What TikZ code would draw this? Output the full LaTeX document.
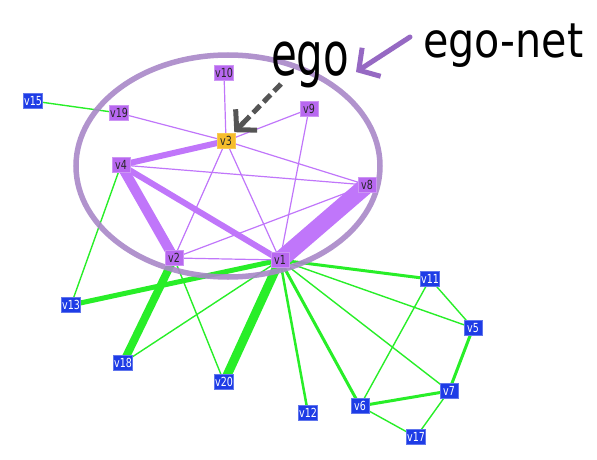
\documentclass[tikz,border=0pt]{standalone}
\usepackage{fontspec}
\setsansfont{DejaVu Sans}
\newfontfamily\vfont[FakeStretch=0.76]{DejaVu Sans}
\usetikzlibrary{arrows.meta,calc}
\definecolor{nblue}{RGB}{30,60,230}
\definecolor{npurple}{RGB}{184,104,240}
\definecolor{norange}{RGB}{246,189,44}
\definecolor{epurple}{RGB}{192,118,250}
\definecolor{egreen}{RGB}{40,238,40}
\definecolor{ellcol}{RGB}{168,135,200}
\definecolor{arrpurple}{RGB}{150,105,195}
\definecolor{arrgray}{RGB}{85,85,85}
\tikzset{
  vnode/.style={rectangle, minimum width=18pt, minimum height=15pt, inner sep=0.5pt,
    font=\vfont\fontsize{12.5}{12.5}\selectfont},
  pn/.style={vnode, fill=npurple, draw=npurple!70!white, line width=0.6pt, text=black!85},
  bn/.style={vnode, fill=nblue, draw=nblue!70!white, line width=0.6pt, text=white},
  on/.style={vnode, fill=norange, draw=norange!80!white, line width=0.6pt, text=black!85},
  pe/.style={draw=epurple, line width=1.2pt},
  ge/.style={draw=egreen, line width=1.4pt},
}
\begin{document}
\begin{tikzpicture}[x=1pt,y=-1pt]
\useasboundingbox (0,0) rectangle (597,460);
\path
  (33,101) coordinate (c15)
  (119,113) coordinate (c19)
  (224,73) coordinate (c10)
  (226,141) coordinate (c3)
  (309,109) coordinate (c9)
  (121,165) coordinate (c4)
  (367,185) coordinate (c8)
  (174,258) coordinate (c2)
  (280,260) coordinate (c1)
  (71,305) coordinate (c13)
  (123,363) coordinate (c18)
  (224,382) coordinate (c20)
  (308,413) coordinate (c12)
  (360,406) coordinate (c6)
  (449,391) coordinate (c7)
  (473,328) coordinate (c5)
  (430,279) coordinate (c11)
  (416,437) coordinate (c17);
% green edges
\draw[ge] (c15) -- (c19);
\draw[ge] (c4) -- (c13);
\draw[ge, line width=5pt] (c13) -- (c1);
\draw[ge, line width=8pt] (c2) -- (c18);
\draw[ge] (c18) -- (c1);
\draw[ge] (c2) -- (c20);
\draw[ge, line width=9pt] (c1) -- (c20);
\draw[ge, line width=2.5pt] (c1) -- (c12);
\draw[ge, line width=3pt] (c1) -- (c6);
\draw[ge] (c1) -- (c7);
\draw[ge] (c1) -- (c5);
\draw[ge, line width=3pt] (c1) -- (c11);
\draw[ge] (c11) -- (c5);
\draw[ge] (c11) -- (c6);
\draw[ge, line width=3pt] (c5) -- (c7);
\draw[ge, line width=3pt] (c6) -- (c7);
\draw[ge] (c6) -- (c17);
\draw[ge] (c7) -- (c17);
% purple edges
\draw[pe] (c19) -- (c3);
\draw[pe] (c10) -- (c3);
\draw[pe] (c9) -- (c3);
\draw[pe, line width=6pt] (c4) -- (c3);
\draw[pe] (c3) -- (c8);
\draw[pe] (c3) -- (c2);
\draw[pe] (c3) -- (c1);
\draw[pe] (c4) -- (c8);
\draw[pe, line width=10pt] (c4) -- (c2);
\draw[pe, line width=6pt] (c4) -- (c1);
\draw[pe, line width=17pt] (c8) -- (c1);
\draw[pe] (c8) -- (c2);
\draw[pe] (c9) -- (c1);
\draw[pe] (c2) -- (c1);
% ego-net ellipse
\draw[ellcol, line width=5.5pt, opacity=0.9] (228,166) ellipse [x radius=152, y radius=111];
% nodes
\node[bn] (v15) at (c15) {v15};
\node[pn] (v19) at (c19) {v19};
\node[pn] (v10) at (c10) {v10};
\node[on] (v3) at (c3) {v3};
\node[pn] (v9) at (c9) {v9};
\node[pn] (v4) at (c4) {v4};
\node[pn] (v8) at (c8) {v8};
\node[pn] (v2) at (c2) {v2};
\node[pn] (v1) at (c1) {v1};
\node[bn] (v13) at (c13) {v13};
\node[bn] (v18) at (c18) {v18};
\node[bn] (v20) at (c20) {v20};
\node[bn] (v12) at (c12) {v12};
\node[bn] (v6) at (c6) {v6};
\node[bn] (v7) at (c7) {v7};
\node[bn] (v5) at (c5) {v5};
\node[bn] (v11) at (c11) {v11};
\node[bn] (v17) at (c17) {v17};
% labels
\node[anchor=base west, inner sep=0pt, font=\sffamily\fontsize{60}{60}\selectfont, xscale=0.7, transform shape] (ego) at (271,76) {ego};
\node[anchor=base west, inner sep=0pt, font=\sffamily\fontsize{48}{48}\selectfont, xscale=0.86, transform shape] (egonet) at (423,58) {ego-net};
\coordinate (egostart) at (281,84);
\coordinate (netstart) at (410,37);
\coordinate (nettip) at (356,72);
\coordinate (egotip) at ($(v3.north east)+(-1,-1)$);
\draw[arrgray, line width=5pt, dash pattern=on 10pt off 5pt, shorten >=8pt] (egostart) -- (egotip);
\draw[arrgray, line width=5pt,
  -{Straight Barb[length=14pt, width=30pt, line width=5pt]}] ($(egotip)!0.2!(egostart)$) -- (egotip);
\draw[arrpurple, line width=5pt, line cap=round,
  -{Straight Barb[length=15pt, width=34pt, line width=5pt]}] (netstart) -- (nettip);
\end{tikzpicture}
\end{document}
